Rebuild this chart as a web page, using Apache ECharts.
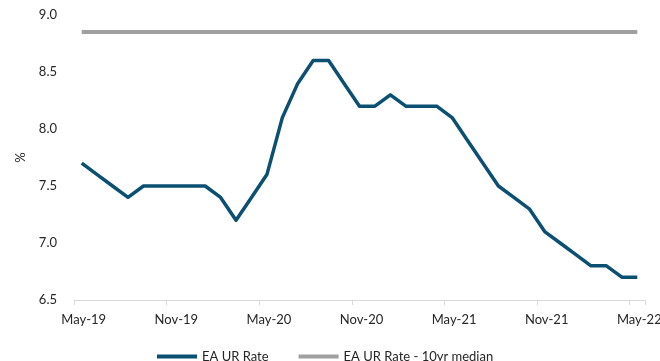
<!DOCTYPE html>
<html>
<head>
<meta charset="utf-8">
<script src="https://cdn.jsdelivr.net/npm/echarts@6/dist/echarts.min.js"></script>
<style>
  html, body { margin: 0; padding: 0; background: #fff; }
  #chart { width: 660px; height: 361px; }
</style>
</head>
<body>
<div id="chart"></div>
<script>
// Monthly euro-area unemployment rate, May-19 to May-22
const months = [
  'May-19','Jun-19','Jul-19','Aug-19','Sep-19','Oct-19','Nov-19','Dec-19',
  'Jan-20','Feb-20','Mar-20','Apr-20','May-20','Jun-20','Jul-20','Aug-20',
  'Sep-20','Oct-20','Nov-20','Dec-20','Jan-21','Feb-21','Mar-21','Apr-21',
  'May-21','Jun-21','Jul-21','Aug-21','Sep-21','Oct-21','Nov-21','Dec-21',
  'Jan-22','Feb-22','Mar-22','Apr-22','May-22'
];
const urRate = [
  7.7, 7.6, 7.5, 7.4, 7.5, 7.5, 7.5, 7.5,
  7.5, 7.4, 7.2, 7.4, 7.6, 8.1, 8.4, 8.6,
  8.6, 8.4, 8.2, 8.2, 8.3, 8.2, 8.2, 8.2,
  8.1, 7.9, 7.7, 7.5, 7.4, 7.3, 7.1, 7.0,
  6.9, 6.8, 6.8, 6.7, 6.7
];
const medianRate = 8.85;
const yTicks = { min: 6.5, max: 9.0, step: 0.5 };
const seriesNames = ['EA UR Rate', 'EA UR Rate - 10yr median'];

const fontFamily = 'Lato, "Open Sans", sans-serif';
const textColor = '#262626';
const chart = echarts.init(document.getElementById('chart'), null, { renderer: 'canvas' });

chart.setOption({
  animation: false,
  backgroundColor: '#ffffff',
  textStyle: { fontFamily: fontFamily },
  grid: { left: 74, right: 15, top: 15, bottom: 61, containLabel: false, outerBoundsMode: 'none' },
  legend: {
    data: seriesNames,
    left: 152,
    top: 345,
    itemWidth: 40,
    itemHeight: 4,
    itemGap: 30,
    icon: 'rect',
    textStyle: { fontSize: 13, color: textColor, fontFamily: fontFamily }
  },
  xAxis: {
    type: 'category',
    data: months,
    boundaryGap: true,
    axisLine: { lineStyle: { color: '#d9d9d9', width: 1 } },
    axisTick: { show: true, interval: 5, length: 5, lineStyle: { color: '#d9d9d9' } },
    axisLabel: {
      interval: 5,
      color: textColor,
      fontSize: 13,
      margin: 13,
      hideOverlap: false,
      // month labels sit under the middle of their month
      padding: [0, 0, 0, 4]
    },
    splitLine: { show: false }
  },
  yAxis: {
    type: 'value',
    min: yTicks.min,
    max: yTicks.max,
    interval: yTicks.step,
    name: '%',
    nameLocation: 'middle',
    nameRotate: 90,
    nameGap: 47,
    nameTextStyle: { color: textColor, fontSize: 13 },
    axisLine: { show: false },
    axisTick: { show: false },
    splitLine: { show: false },
    axisLabel: {
      color: textColor,
      fontSize: 13,
      margin: 17,
      formatter: v => v.toFixed(1)
    }
  },
  series: [
    {
      name: seriesNames[0],
      type: 'line',
      data: urRate,
      symbol: 'none',
      z: 3,
      lineStyle: { color: '#0b5072', width: 3.5, join: 'round' },
      itemStyle: { color: '#0b5072' }
    },
    {
      name: seriesNames[1],
      type: 'line',
      data: months.map(() => medianRate),
      symbol: 'none',
      z: 2,
      lineStyle: { color: '#a0a0a0', width: 4 },
      itemStyle: { color: '#a0a0a0' }
    }
  ]
});
</script>
</body>
</html>
